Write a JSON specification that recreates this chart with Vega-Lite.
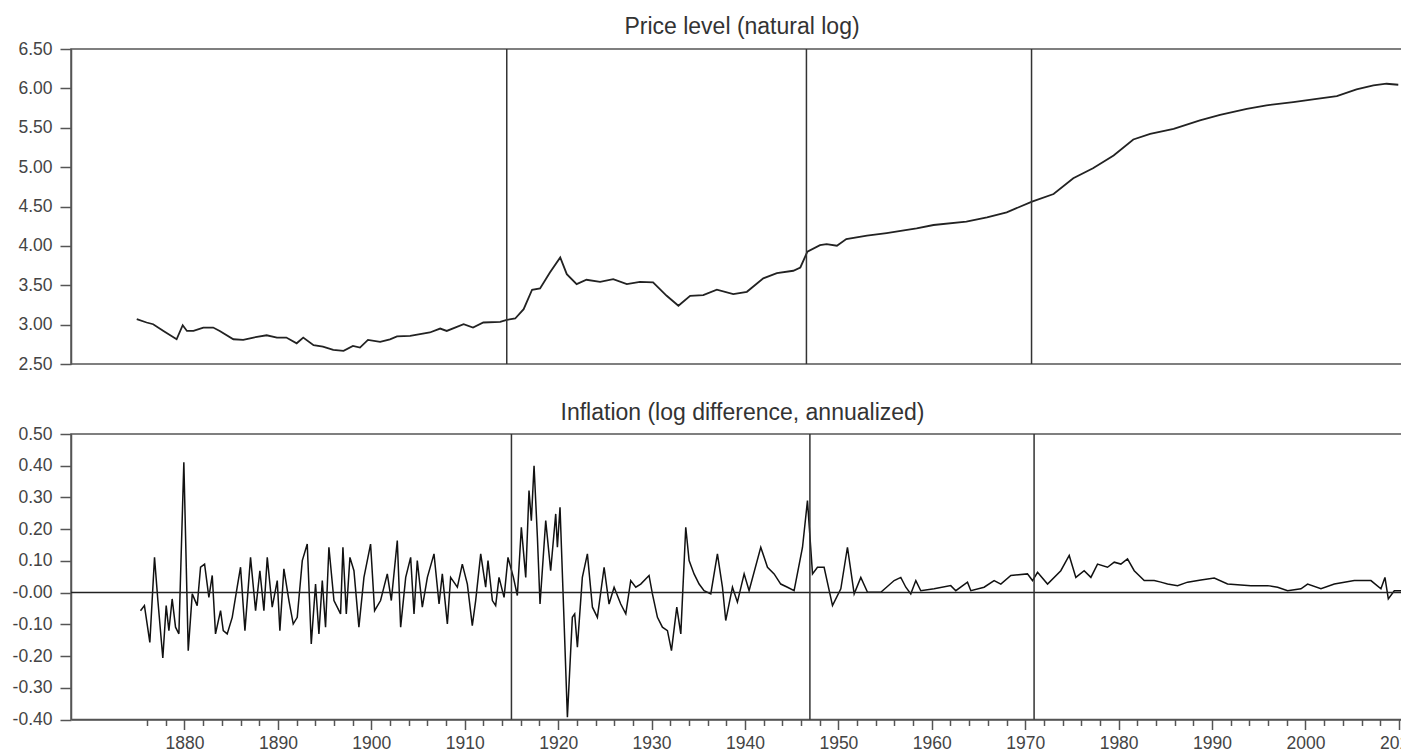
{
  "$schema": "https://vega.github.io/schema/vega-lite/v6.json",
  "background": "white",
  "padding": {"left": 11, "top": 15, "right": 0, "bottom": 0},
  "config": {
    "font": "Liberation Sans",
    "view": {"stroke": "#555", "strokeWidth": 1.5},
    "axis": {"grid": false, "domainColor": "#555", "domainWidth": 1.5, "tickColor": "#555", "tickWidth": 1.5, "labelColor": "#444", "labelFontSize": 17.5, "labelFont": "Liberation Sans", "labelOverlap": false, "labelFlush": false},
    "title": {"fontSize": 23, "fontWeight": "normal", "color": "#333", "baseline": "alphabetic", "anchor": "middle", "font": "Liberation Sans"}
  },
  "datasets": {
    "price": [
      {"year": 1875.55, "lnp": 3.069}, {"year": 1876.6, "lnp": 3.027}, {"year": 1877.3, "lnp": 3.005}, {"year": 1878.4, "lnp": 2.92}, {"year": 1879.8, "lnp": 2.814}, {"year": 1880.45, "lnp": 2.992}, {"year": 1880.9, "lnp": 2.92}, {"year": 1881.6, "lnp": 2.92}, {"year": 1882.65, "lnp": 2.963}, {"year": 1883.7, "lnp": 2.963}, {"year": 1884.4, "lnp": 2.92}, {"year": 1885.85, "lnp": 2.814}, {"year": 1886.9, "lnp": 2.806}, {"year": 1888.0, "lnp": 2.836}, {"year": 1889.4, "lnp": 2.865}, {"year": 1890.5, "lnp": 2.836}, {"year": 1891.5, "lnp": 2.836}, {"year": 1892.6, "lnp": 2.763}, {"year": 1893.3, "lnp": 2.836}, {"year": 1894.4, "lnp": 2.738}, {"year": 1895.4, "lnp": 2.721}, {"year": 1896.5, "lnp": 2.679}, {"year": 1897.6, "lnp": 2.667}, {"year": 1898.6, "lnp": 2.73}, {"year": 1899.35, "lnp": 2.709}, {"year": 1900.2, "lnp": 2.806}, {"year": 1901.5, "lnp": 2.78}, {"year": 1902.55, "lnp": 2.814}, {"year": 1903.3, "lnp": 2.85}, {"year": 1904.7, "lnp": 2.857}, {"year": 1906.8, "lnp": 2.9}, {"year": 1907.9, "lnp": 2.95}, {"year": 1908.6, "lnp": 2.92}, {"year": 1910.4, "lnp": 3.005}, {"year": 1911.4, "lnp": 2.963}, {"year": 1912.5, "lnp": 3.027}, {"year": 1914.3, "lnp": 3.036}, {"year": 1915.0, "lnp": 3.061}, {"year": 1915.9, "lnp": 3.078}, {"year": 1916.8, "lnp": 3.196}, {"year": 1917.7, "lnp": 3.443}, {"year": 1918.55, "lnp": 3.46}, {"year": 1919.6, "lnp": 3.663}, {"year": 1920.7, "lnp": 3.854}, {"year": 1921.4, "lnp": 3.641}, {"year": 1922.45, "lnp": 3.514}, {"year": 1923.5, "lnp": 3.57}, {"year": 1924.95, "lnp": 3.544}, {"year": 1926.35, "lnp": 3.578}, {"year": 1927.8, "lnp": 3.514}, {"year": 1929.2, "lnp": 3.544}, {"year": 1930.6, "lnp": 3.536}, {"year": 1932.05, "lnp": 3.366}, {"year": 1933.3, "lnp": 3.239}, {"year": 1934.55, "lnp": 3.366}, {"year": 1935.95, "lnp": 3.374}, {"year": 1937.4, "lnp": 3.443}, {"year": 1939.15, "lnp": 3.387}, {"year": 1940.6, "lnp": 3.417}, {"year": 1942.35, "lnp": 3.587}, {"year": 1943.8, "lnp": 3.654}, {"year": 1945.55, "lnp": 3.684}, {"year": 1946.3, "lnp": 3.726}, {"year": 1947.05, "lnp": 3.926}, {"year": 1948.4, "lnp": 4.01}, {"year": 1949.1, "lnp": 4.023}, {"year": 1950.2, "lnp": 4.002}, {"year": 1951.2, "lnp": 4.086}, {"year": 1953.4, "lnp": 4.13}, {"year": 1955.5, "lnp": 4.163}, {"year": 1957.0, "lnp": 4.19}, {"year": 1958.7, "lnp": 4.223}, {"year": 1960.5, "lnp": 4.265}, {"year": 1964.0, "lnp": 4.308}, {"year": 1966.2, "lnp": 4.363}, {"year": 1968.3, "lnp": 4.426}, {"year": 1971.0, "lnp": 4.562}, {"year": 1973.3, "lnp": 4.659}, {"year": 1975.4, "lnp": 4.859}, {"year": 1977.5, "lnp": 4.986}, {"year": 1979.7, "lnp": 5.148}, {"year": 1981.8, "lnp": 5.351}, {"year": 1983.6, "lnp": 5.422}, {"year": 1986.1, "lnp": 5.486}, {"year": 1988.9, "lnp": 5.593}, {"year": 1991.05, "lnp": 5.664}, {"year": 1993.9, "lnp": 5.74}, {"year": 1996.0, "lnp": 5.784}, {"year": 1998.85, "lnp": 5.826}, {"year": 2001.35, "lnp": 5.868}, {"year": 2003.5, "lnp": 5.902}, {"year": 2005.6, "lnp": 5.987}, {"year": 2007.4, "lnp": 6.038}, {"year": 2008.8, "lnp": 6.059}, {"year": 2010.05, "lnp": 6.046}
    ],
    "infl": [
      {"year": 1875.29, "infl": -0.057}, {"year": 1875.71, "infl": -0.041}, {"year": 1876.29, "infl": -0.157}, {"year": 1876.79, "infl": 0.111}, {"year": 1877.15, "infl": -0.025}, {"year": 1877.68, "infl": -0.206}, {"year": 1878.04, "infl": -0.041}, {"year": 1878.33, "infl": -0.12}, {"year": 1878.68, "infl": -0.02}, {"year": 1879.04, "infl": -0.109}, {"year": 1879.4, "infl": -0.13}, {"year": 1879.93, "infl": 0.411}, {"year": 1880.4, "infl": -0.183}, {"year": 1880.83, "infl": -0.004}, {"year": 1881.36, "infl": -0.041}, {"year": 1881.72, "infl": 0.08}, {"year": 1882.15, "infl": 0.09}, {"year": 1882.61, "infl": -0.015}, {"year": 1882.97, "infl": 0.054}, {"year": 1883.32, "infl": -0.13}, {"year": 1883.86, "infl": -0.057}, {"year": 1884.15, "infl": -0.12}, {"year": 1884.57, "infl": -0.13}, {"year": 1885.11, "infl": -0.078}, {"year": 1885.64, "infl": 0.017}, {"year": 1886.0, "infl": 0.08}, {"year": 1886.47, "infl": -0.12}, {"year": 1887.07, "infl": 0.111}, {"year": 1887.61, "infl": -0.057}, {"year": 1888.07, "infl": 0.069}, {"year": 1888.5, "infl": -0.057}, {"year": 1888.86, "infl": 0.111}, {"year": 1889.39, "infl": -0.046}, {"year": 1889.93, "infl": 0.038}, {"year": 1890.21, "infl": -0.12}, {"year": 1890.64, "infl": 0.075}, {"year": 1891.18, "infl": -0.025}, {"year": 1891.64, "infl": -0.099}, {"year": 1892.07, "infl": -0.078}, {"year": 1892.61, "infl": 0.101}, {"year": 1893.14, "infl": 0.153}, {"year": 1893.57, "infl": -0.162}, {"year": 1894.03, "infl": 0.027}, {"year": 1894.39, "infl": -0.13}, {"year": 1894.75, "infl": 0.038}, {"year": 1895.1, "infl": -0.109}, {"year": 1895.46, "infl": 0.143}, {"year": 1896.0, "infl": -0.025}, {"year": 1896.71, "infl": -0.067}, {"year": 1896.96, "infl": 0.143}, {"year": 1897.32, "infl": -0.067}, {"year": 1897.71, "infl": 0.111}, {"year": 1898.14, "infl": 0.069}, {"year": 1898.67, "infl": -0.109}, {"year": 1899.21, "infl": 0.048}, {"year": 1899.92, "infl": 0.153}, {"year": 1900.35, "infl": -0.057}, {"year": 1900.99, "infl": -0.025}, {"year": 1901.71, "infl": 0.059}, {"year": 1902.14, "infl": -0.025}, {"year": 1902.78, "infl": 0.164},
      {"year": 1903.14, "infl": -0.109}, {"year": 1903.68, "infl": 0.048}, {"year": 1904.21, "infl": 0.111}, {"year": 1904.57, "infl": -0.067}, {"year": 1904.92, "infl": 0.101}, {"year": 1905.46, "infl": -0.046}, {"year": 1906.0, "infl": 0.048}, {"year": 1906.71, "infl": 0.122}, {"year": 1907.25, "infl": -0.036}, {"year": 1907.6, "infl": 0.059}, {"year": 1908.14, "infl": -0.099}, {"year": 1908.49, "infl": 0.048}, {"year": 1909.21, "infl": 0.017}, {"year": 1909.74, "infl": 0.09}, {"year": 1910.28, "infl": 0.027}, {"year": 1910.81, "infl": -0.104}, {"year": 1911.17, "infl": -0.025}, {"year": 1911.71, "infl": 0.122}, {"year": 1912.24, "infl": 0.017}, {"year": 1912.49, "infl": 0.101}, {"year": 1912.96, "infl": -0.025}, {"year": 1913.31, "infl": -0.041}, {"year": 1913.67, "infl": 0.048}, {"year": 1914.21, "infl": -0.015}, {"year": 1914.63, "infl": 0.111}, {"year": 1915.21, "infl": 0.048}, {"year": 1915.63, "infl": -0.009}, {"year": 1916.06, "infl": 0.206}, {"year": 1916.53, "infl": 0.048}, {"year": 1916.88, "infl": 0.322}, {"year": 1917.13, "infl": 0.227}, {"year": 1917.42, "infl": 0.4}, {"year": 1917.78, "infl": 0.174}, {"year": 1918.06, "infl": -0.036}, {"year": 1918.67, "infl": 0.227}, {"year": 1919.2, "infl": 0.069}, {"year": 1919.74, "infl": 0.248}, {"year": 1919.92, "infl": 0.143}, {"year": 1920.2, "infl": 0.269}, {"year": 1920.63, "infl": -0.088}, {"year": 1920.99, "infl": -0.393}, {"year": 1921.52, "infl": -0.078}, {"year": 1921.77, "infl": -0.067}, {"year": 1922.06, "infl": -0.172}, {"year": 1922.59, "infl": 0.048}, {"year": 1923.13, "infl": 0.122}, {"year": 1923.67, "infl": -0.046}, {"year": 1924.2, "infl": -0.078}, {"year": 1924.92, "infl": 0.08}, {"year": 1925.45, "infl": -0.036}, {"year": 1925.99, "infl": 0.017}, {"year": 1926.7, "infl": -0.036}, {"year": 1927.24, "infl": -0.067}, {"year": 1927.77, "infl": 0.038}, {"year": 1928.31, "infl": 0.017}, {"year": 1928.84, "infl": 0.027}, {"year": 1929.73, "infl": 0.054}, {"year": 1930.09, "infl": -0.004}, {"year": 1930.63, "infl": -0.078}, {"year": 1931.16, "infl": -0.109}, {"year": 1931.7, "infl": -0.12}, {"year": 1932.13, "infl": -0.183}, {"year": 1932.7, "infl": -0.046}, {"year": 1933.13, "infl": -0.13}, {"year": 1933.66, "infl": 0.206}, {"year": 1934.02, "infl": 0.101}, {"year": 1934.55, "infl": 0.059}, {"year": 1935.09, "infl": 0.027}, {"year": 1935.62, "infl": 0.006}, {"year": 1936.34, "infl": -0.004}, {"year": 1937.05, "infl": 0.122}, {"year": 1937.59, "infl": 0.017}, {"year": 1937.94, "infl": -0.088}, {"year": 1938.66, "infl": 0.017}, {"year": 1939.19, "infl": -0.03}, {"year": 1939.91, "infl": 0.059}, {"year": 1940.44, "infl": 0.006}, {"year": 1941.69, "infl": 0.143}, {"year": 1942.41, "infl": 0.08}, {"year": 1943.12, "infl": 0.059}, {"year": 1943.83, "infl": 0.027}, {"year": 1944.55, "infl": 0.017}, {"year": 1945.26, "infl": 0.006}, {"year": 1946.16, "infl": 0.143}, {"year": 1946.69, "infl": 0.29}, {"year": 1947.23, "infl": 0.059}, {"year": 1947.76, "infl": 0.08}, {"year": 1948.47, "infl": 0.08}, {"year": 1949.37, "infl": -0.041}, {"year": 1950.26, "infl": 0.012}, {"year": 1950.97, "infl": 0.143}, {"year": 1951.69, "infl": -0.004}, {"year": 1952.4, "infl": 0.048}, {"year": 1953.12, "infl": 0.001}, {"year": 1954.54, "infl": 0.001}, {"year": 1955.97, "infl": 0.038}, {"year": 1956.68, "infl": 0.048},
      {"year": 1957.22, "infl": 0.017}, {"year": 1957.75, "infl": -0.004}, {"year": 1958.29, "infl": 0.038}, {"year": 1958.82, "infl": 0.006}, {"year": 1960.25, "infl": 0.012}, {"year": 1962.03, "infl": 0.022}, {"year": 1962.57, "infl": 0.006}, {"year": 1963.82, "infl": 0.033}, {"year": 1964.18, "infl": 0.006}, {"year": 1965.6, "infl": 0.017}, {"year": 1966.67, "infl": 0.038}, {"year": 1967.39, "infl": 0.027}, {"year": 1968.46, "infl": 0.054}, {"year": 1970.24, "infl": 0.059}, {"year": 1970.78, "infl": 0.038}, {"year": 1971.32, "infl": 0.064}, {"year": 1972.39, "infl": 0.027}, {"year": 1973.81, "infl": 0.069}, {"year": 1974.71, "infl": 0.117}, {"year": 1975.42, "infl": 0.048}, {"year": 1976.31, "infl": 0.069}, {"year": 1977.03, "infl": 0.048}, {"year": 1977.74, "infl": 0.09}, {"year": 1978.81, "infl": 0.08}, {"year": 1979.53, "infl": 0.096}, {"year": 1980.24, "infl": 0.09}, {"year": 1980.95, "infl": 0.106}, {"year": 1981.67, "infl": 0.069}, {"year": 1982.74, "infl": 0.038}, {"year": 1983.81, "infl": 0.038}, {"year": 1984.52, "infl": 0.033}, {"year": 1985.24, "infl": 0.027}, {"year": 1986.31, "infl": 0.022}, {"year": 1987.38, "infl": 0.033}, {"year": 1988.81, "infl": 0.04}, {"year": 1990.24, "infl": 0.046}, {"year": 1991.66, "infl": 0.027}, {"year": 1994.16, "infl": 0.022}, {"year": 1995.95, "infl": 0.022}, {"year": 1997.02, "infl": 0.017}, {"year": 1998.09, "infl": 0.006}, {"year": 1999.52, "infl": 0.012}, {"year": 2000.23, "infl": 0.027}, {"year": 2001.66, "infl": 0.012}, {"year": 2003.09, "infl": 0.027}, {"year": 2004.16, "infl": 0.033}, {"year": 2005.23, "infl": 0.038}, {"year": 2007.01, "infl": 0.038}, {"year": 2008.08, "infl": 0.012}, {"year": 2008.51, "infl": 0.048}, {"year": 2008.87, "infl": -0.02}, {"year": 2009.51, "infl": 0.006}, {"year": 2010.23, "infl": 0.006}
    ],
    "breaks": [{"year": 1915.0}, {"year": 1946.95}, {"year": 1970.95}],
    "zero": [{"z": 0}]
  },
  "spacing": 27,
  "vconcat": [
    {
      "title": {"text": "Price level (natural log)", "offset": 1},
      "width": 1342,
      "height": 315,
      "layer": [
        {
          "data": {"name": "price"},
          "mark": {"type": "line", "color": "#222", "strokeWidth": 1.8},
          "encoding": {
            "x": {"field": "year", "type": "quantitative", "scale": {"domain": [1868.54, 2011.62], "nice": false, "zero": false}, "axis": null},
            "y": {"field": "lnp", "type": "quantitative", "scale": {"domain": [2.5, 6.5], "nice": false, "zero": false},
                  "axis": {"title": null, "values": [2.5, 3, 3.5, 4, 4.5, 5, 5.5, 6, 6.5], "format": ".2f", "tickSize": 11, "labelPadding": 8}}
          }
        },
        {
          "data": {"name": "breaks"},
          "mark": {"type": "rule", "color": "#333", "strokeWidth": 1.5},
          "encoding": {"x": {"field": "year", "type": "quantitative", "axis": null}}
        }
      ]
    },
    {
      "title": {"text": "Inflation (log difference, annualized)", "offset": 0},
      "width": 1343,
      "height": 285.5,
      "layer": [
        {
          "data": {"name": "infl"},
          "mark": {"type": "line", "color": "#111", "strokeWidth": 1.5},
          "encoding": {
            "x": {"field": "year", "type": "quantitative", "scale": {"domain": [1867.85, 2011.62], "nice": false, "zero": false},
                  "axis": {"title": null, "values": [1876, 1878, 1880, 1882, 1884, 1886, 1888, 1890, 1892, 1894, 1896, 1898, 1900, 1902, 1904, 1906, 1908, 1910, 1912, 1914, 1916, 1918, 1920, 1922, 1924, 1926, 1928, 1930, 1932, 1934, 1936, 1938, 1940, 1942, 1944, 1946, 1948, 1950, 1952, 1954, 1956, 1958, 1960, 1962, 1964, 1966, 1968, 1970, 1972, 1974, 1976, 1978, 1980, 1982, 1984, 1986, 1988, 1990, 1992, 1994, 1996, 1998, 2000, 2002, 2004, 2006, 2008, 2010], "labelExpr": "datum.value % 10 === 0 ? '' + datum.value : ''", "tickSize": {"condition": {"test": "datum.value % 10 === 0", "value": 10}, "value": 6}, "labelPadding": 5}},
            "y": {"field": "infl", "type": "quantitative", "scale": {"domain": [-0.4, 0.5], "nice": false, "zero": false},
                  "axis": {"title": null, "values": [-0.4, -0.3, -0.2, -0.1, 0, 0.1, 0.2, 0.3, 0.4, 0.5], "labelExpr": "datum.value === 0 ? '-0.00' : replace(format(datum.value, '.2f'), '\u2212', '-')", "tickSize": 11, "labelPadding": 8}}
          }
        },
        {
          "data": {"name": "zero"},
          "mark": {"type": "rule", "color": "#222", "strokeWidth": 1.5},
          "encoding": {
            "y": {"field": "z", "type": "quantitative",
                  "axis": {"title": null, "values": [-0.4, -0.3, -0.2, -0.1, 0, 0.1, 0.2, 0.3, 0.4, 0.5], "labelExpr": "datum.value === 0 ? '-0.00' : replace(format(datum.value, '.2f'), '\u2212', '-')", "tickSize": 11, "labelPadding": 8}}
          }
        },
        {
          "data": {"name": "breaks"},
          "mark": {"type": "rule", "color": "#333", "strokeWidth": 1.5},
          "encoding": {
            "x": {"field": "year", "type": "quantitative",
                  "axis": {"title": null, "values": [1876, 1878, 1880, 1882, 1884, 1886, 1888, 1890, 1892, 1894, 1896, 1898, 1900, 1902, 1904, 1906, 1908, 1910, 1912, 1914, 1916, 1918, 1920, 1922, 1924, 1926, 1928, 1930, 1932, 1934, 1936, 1938, 1940, 1942, 1944, 1946, 1948, 1950, 1952, 1954, 1956, 1958, 1960, 1962, 1964, 1966, 1968, 1970, 1972, 1974, 1976, 1978, 1980, 1982, 1984, 1986, 1988, 1990, 1992, 1994, 1996, 1998, 2000, 2002, 2004, 2006, 2008, 2010], "labelExpr": "datum.value % 10 === 0 ? '' + datum.value : ''", "tickSize": {"condition": {"test": "datum.value % 10 === 0", "value": 10}, "value": 6}, "labelPadding": 5}}
          }
        }
      ]
    }
  ]
}
